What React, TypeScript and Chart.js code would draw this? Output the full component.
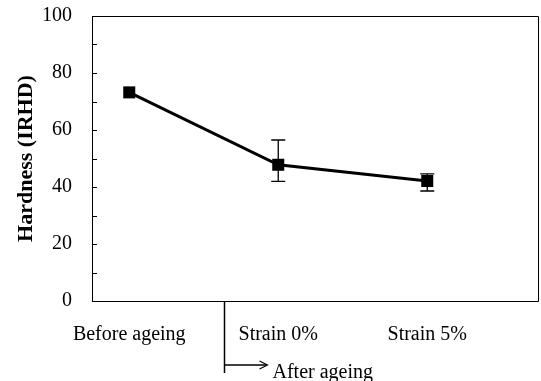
import React, { useEffect, useRef } from 'react';
import { Chart, registerables } from 'chart.js';

Chart.register(...registerables);

const categories = ['Before ageing', 'Strain 0%', 'Strain 5%'];
const hardness = [73.2, 47.8, 42.1];
const errLow: (number | null)[] = [null, 42.0, 38.6];
const errHigh: (number | null)[] = [null, 56.5, 44.6];
const yTickLabels = [0, 20, 40, 60, 80, 100];
const yTitle = 'Hardness (IRHD)';
const annotationLabel = 'After ageing';
const annotationX = 0.635;
const xMin = -0.25;
const xMax = 2.75;

const SERIF = '"Liberation Serif", "Times New Roman", serif';

export default function App() {
  const ref = useRef<HTMLCanvasElement | null>(null);

  useEffect(() => {
    document.body.style.margin = '0';
    const canvas = ref.current;
    if (!canvas) return;

    const boxPlugin = {
      id: 'box',
      afterDraw(chart: any) {
        const { ctx, chartArea: a, scales } = chart;
        const y = scales.y;
        ctx.save();
        ctx.strokeStyle = '#000';
        ctx.lineWidth = 1;
        ctx.beginPath();
        ctx.rect(Math.round(a.left) + 0.5, Math.round(a.top) + 0.5, Math.round(a.right - a.left) - 1, Math.round(a.bottom - a.top));
        ctx.stroke();
        for (let v = 0; v <= 100; v += 10) {
          const py = Math.round(y.getPixelForValue(v)) + 0.5;
          ctx.beginPath();
          ctx.moveTo(a.left, py);
          ctx.lineTo(a.left + 5, py);
          ctx.stroke();
        }
        ctx.restore();
      },
    };

    const errPlugin = {
      id: 'err',
      afterDatasetsDraw(chart: any) {
        const { ctx, scales } = chart;
        ctx.save();
        ctx.strokeStyle = '#000';
        ctx.lineWidth = 1.3;
        categories.forEach((_, i) => {
          const lo = errLow[i];
          const hi = errHigh[i];
          if (lo == null || hi == null) return;
          const px = scales.x.getPixelForValue(i);
          const y1 = scales.y.getPixelForValue(lo);
          const y2 = scales.y.getPixelForValue(hi);
          ctx.beginPath();
          ctx.moveTo(px, y1);
          ctx.lineTo(px, y2);
          ctx.moveTo(px - 7, y1);
          ctx.lineTo(px + 7, y1);
          ctx.moveTo(px - 7, y2);
          ctx.lineTo(px + 7, y2);
          ctx.stroke();
        });
        ctx.restore();
      },
    };

    const annotPlugin = {
      id: 'annot',
      afterDraw(chart: any) {
        const { ctx, chartArea: a, scales } = chart;
        const px = Math.round(scales.x.getPixelForValue(annotationX)) + 0.5;
        ctx.save();
        ctx.strokeStyle = '#000';
        ctx.lineWidth = 1.5;
        ctx.beginPath();
        ctx.moveTo(px, a.bottom);
        ctx.lineTo(px, a.bottom + 72);
        ctx.moveTo(px, a.bottom + 64);
        ctx.lineTo(px + 42, a.bottom + 64);
        ctx.stroke();
        ctx.lineWidth = 1.2;
        ctx.beginPath();
        ctx.moveTo(px + 35, a.bottom + 60);
        ctx.lineTo(px + 43, a.bottom + 64);
        ctx.lineTo(px + 35, a.bottom + 68);
        ctx.stroke();
        ctx.fillStyle = '#000';
        ctx.font = `20px ${SERIF}`;
        ctx.textBaseline = 'alphabetic';
        ctx.textAlign = 'left';
        ctx.fillText(annotationLabel, px + 48, a.bottom + 77);
        ctx.restore();
      },
    };

    const chart = new Chart(canvas, {
      type: 'line',
      data: {
        datasets: [
          {
            data: hardness.map((v, i) => ({ x: i, y: v })),
            borderColor: '#000',
            backgroundColor: '#000',
            borderWidth: 3,
            pointStyle: 'rect',
            pointRadius: 8.5,
            pointBorderWidth: 0,
            pointBackgroundColor: '#000',
            tension: 0,
            clip: false,
          },
        ],
      },
      options: {
        animation: false,
        responsive: false,
        layout: { autoPadding: false, padding: { top: 16, right: 2, left: 0, bottom: 0 } },
        plugins: { legend: { display: false }, tooltip: { enabled: false } },
        scales: {
          x: {
            type: 'linear',
            min: xMin,
            max: xMax,
            afterFit(s: any) {
              s.height = 80;
            },
            afterBuildTicks(s: any) {
              s.ticks = categories.map((_, i) => ({ value: i }));
            },
            ticks: {
              autoSkip: false,
              maxRotation: 0,
              padding: 22,
              color: '#000',
              font: { family: SERIF, size: 20 },
              callback: (v: any) => categories[v as number] ?? '',
            },
            grid: { display: false, drawTicks: false },
            border: { display: false },
          },
          y: {
            min: 0,
            max: 100,
            afterFit(s: any) {
              s.width = 92;
              s.paddingTop = 0;
              s.paddingBottom = 0;
            },
            afterBuildTicks(s: any) {
              s.ticks = yTickLabels.map((v) => ({ value: v }));
            },
            ticks: {
              padding: 20,
              color: '#000',
              font: { family: SERIF, size: 20 },
            },
            title: {
              display: true,
              text: yTitle,
              color: '#000',
              font: { family: SERIF, size: 22, weight: 'bold' },
              padding: { top: 13, bottom: 0 },
            },
            grid: { display: false, drawTicks: false },
            border: { display: false },
          },
        },
      },
      plugins: [boxPlugin, errPlugin, annotPlugin],
    });

    return () => chart.destroy();
  }, []);

  return (
    <div style={{ width: 541, height: 381 }}>
      <canvas ref={ref} width={541} height={381} />
    </div>
  );
}
